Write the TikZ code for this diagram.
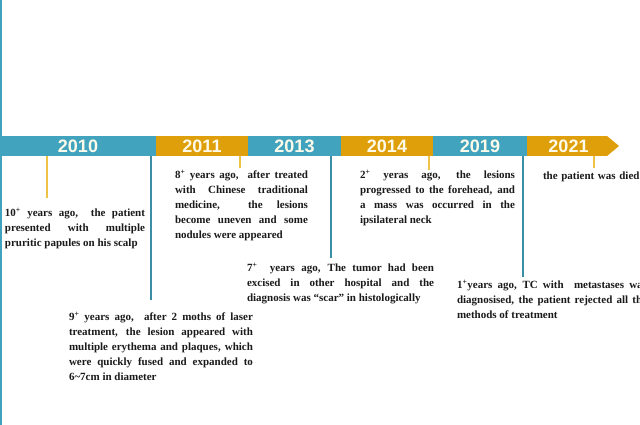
\documentclass[tikz,border=0pt]{standalone}
\usepackage{fontspec}
\setmainfont{Liberation Serif}
\newfontfamily\yearfont{Liberation Sans}
\definecolor{bandblue}{HTML}{41A3BE}
\definecolor{bandgold}{HTML}{DE9F0A}
\definecolor{tickblue}{HTML}{3B8EA5}
\definecolor{tickgold}{HTML}{EEC245}
\definecolor{yeartext}{HTML}{FFFBEA}
\definecolor{bodytext}{HTML}{1A1A1A}
\begin{document}
\begin{tikzpicture}[x=1pt,y=-1pt,
  seg/.style={anchor=north west, minimum height=20pt, inner sep=0pt, outer sep=0pt,
    text=yeartext, font=\yearfont\bfseries\fontsize{18}{18}\selectfont},
  bseg/.style={seg, fill=bandblue},
  gseg/.style={seg, fill=bandgold},
  descr/.style={anchor=north west, inner sep=0pt, outer sep=0pt, align=justify,
    text=bodytext, font=\bfseries\fontsize{11}{15}\selectfont},
  btick/.style={draw=tickblue, line width=1.4pt},
  gtick/.style={draw=tickgold, line width=1.4pt}]
\useasboundingbox (0,0) rectangle (640,425);
\fill[white] (0,0) rectangle (640,425);
% left edge line
\coordinate (lt) at (1,0);
\coordinate (lb) at (1,425);
\draw[draw=bandblue, line width=2pt] (lt) -- (lb);
% band segments
\node[bseg, minimum width=156pt] (y2010) at (0,136) {2010};
\node[gseg, minimum width=92pt] (y2011) at (156,136) {2011};
\node[bseg, minimum width=93pt] (y2013) at (248,136) {2013};
\node[gseg, minimum width=92pt] (y2014) at (341,136) {2014};
\node[bseg, minimum width=94pt] (y2019) at (433,136) {2019};
\node[gseg, minimum width=80pt] (y2021) at (527,136) {\hspace*{3pt}2021};
\coordinate (tip) at (619,146);
\fill[bandgold] (y2021.north east) -- (tip) -- (y2021.south east) -- cycle;
% descriptions
\node[descr, text width=140pt] (d1) at (5,208)
  {10\textsuperscript{+} years ago,\ \ the patient\linebreak presented with multiple\linebreak pruritic papules on his scalp};
\node[descr, text width=184pt] (d2) at (69,312)
  {9\textsuperscript{+} years ago,\ \ after 2 moths of laser\linebreak treatment, the lesion appeared with\linebreak multiple erythema and plaques, which\linebreak were quickly fused and expanded to\linebreak 6\textasciitilde 7cm in diameter};
\node[descr, text width=133pt] (d3) at (175,170)
  {8\textsuperscript{+} years ago,\ \ after treated\linebreak with Chinese traditional\linebreak medicine,\ \ the lesions\linebreak become uneven and some\linebreak nodules were appeared};
\node[descr, text width=187pt] (d4) at (247,263)
  {7\textsuperscript{+}\ \ years ago, The tumor had been\linebreak excised in other hospital and the\linebreak diagnosis was “scar” in histologically};
\node[descr, text width=155pt] (d5) at (360,170)
  {2\textsuperscript{+} yeras ago, the lesions\linebreak progressed to the forehead, and\linebreak a mass was occurred in the\linebreak ipsilateral neck};
\node[descr, text width=190pt] (d6) at (457,280)
  {1\textsuperscript{+}years ago, TC with\ \ metastases was\linebreak diagnosised, the patient rejected all the\linebreak methods of treatment};
\node[descr, text width=100pt, align=left] (d7) at (543,172)
  {the patient was died};
% ticks
\coordinate (t1) at (47,198);
\coordinate (t2) at (151,300);
\coordinate (t3) at (240,168);
\coordinate (t4) at (331,258);
\coordinate (t5) at (429,170);
\coordinate (t6) at (523,277);
\coordinate (t7) at (594,168);
\draw[gtick] (y2010.south -| t1) -- (t1);
\draw[btick] (y2010.south -| t2) -- (t2);
\draw[gtick] (y2011.south -| t3) -- (t3);
\draw[btick] (y2013.south -| t4) -- (t4);
\draw[gtick] (y2014.south -| t5) -- (t5);
\draw[btick] (y2019.south -| t6) -- (t6);
\draw[gtick] (y2021.south -| t7) -- (t7);
\end{tikzpicture}
\end{document}
